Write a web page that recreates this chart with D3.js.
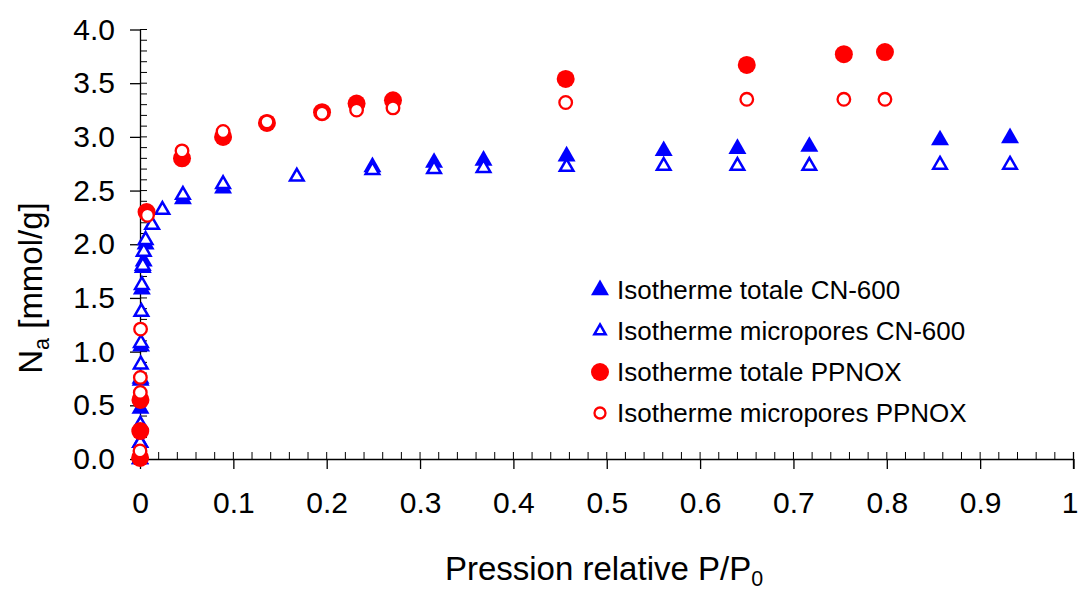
<!DOCTYPE html>
<html><head><meta charset="utf-8">
<script src="https://cdn.jsdelivr.net/npm/d3@7"></script>
<style>body{margin:0;background:#fff}svg{display:block}text{font-family:"Liberation Sans",Arial,sans-serif}</style>
</head><body><svg id="c" width="1079" height="590"></svg>
<script>
// CN-600 total isotherm
const cnTotX = [0.0001,0.0003,0.0005,0.0007,0.0012,0.002,0.003,0.004,0.006,0.046,0.089,0.249,0.315,0.368,0.457,0.561,0.640,0.717,0.857,0.932];
const cnTotY = [0.0,0.15,0.47,0.73,1.05,1.58,1.78,1.84,2.00,2.42,2.52,2.72,2.76,2.78,2.82,2.87,2.89,2.91,2.97,2.99];
// CN-600 micropore isotherm
const cnMicX = [0,0.0002,0.0004,0.0006,0.0008,0.001,0.0015,0.002,0.003,0.004,0.006,0.013,0.024,0.046,0.089,0.168,0.249,0.315,0.368,0.457,0.561,0.640,0.717,0.857,0.932];
const cnMicY = [0.0,0.15,0.32,0.75,0.88,1.08,1.37,1.62,1.80,1.93,2.04,2.18,2.32,2.46,2.56,2.63,2.69,2.70,2.71,2.72,2.73,2.73,2.73,2.74,2.74];
// PPNOX total isotherm
const ppTotX = [0.0001,0.0003,0.0005,0.007,0.045,0.089,0.136,0.195,0.232,0.271,0.456,0.650,0.754,0.798];
const ppTotY = [0.01,0.26,0.55,2.30,2.80,3.00,3.13,3.23,3.31,3.34,3.54,3.67,3.77,3.79];
// PPNOX micropore isotherm
const ppMicX = [0,0.0003,0.0004,0.0006,0.008,0.045,0.089,0.136,0.195,0.232,0.271,0.456,0.650,0.754,0.798];
const ppMicY = [0.075,0.62,0.76,1.21,2.27,2.87,3.05,3.14,3.22,3.25,3.27,3.32,3.35,3.35,3.35];

const legendLabels = ["Isotherme totale CN-600","Isotherme micropores CN-600","Isotherme totale PPNOX","Isotherme micropores PPNOX"];
const xTicks = [0,0.1,0.2,0.3,0.4,0.5,0.6,0.7,0.8,0.9,1];
const yTicks = [0,0.5,1,1.5,2,2.5,3,3.5,4];

const svg = d3.select("#c");
const x = d3.scaleLinear().domain([0,1]).range([140,1073.5]);
const y = d3.scaleLinear().domain([0,4]).range([459,29.5]);
const FS = 26, TFS = 30, AFS = 33;

// minor ticks
const g = svg.append("g");
g.selectAll(".mx").data(d3.range(0,1.0001,0.02)).join("line")
  .attr("x1",d=>x(d)).attr("x2",d=>x(d)).attr("y1",y(0)).attr("y2",y(0)-7)
  .attr("stroke","#000").attr("stroke-width",1);
g.selectAll(".my").data(d3.range(0,4.0001,0.1)).join("line")
  .attr("y1",d=>y(d)).attr("y2",d=>y(d)).attr("x1",x(0)).attr("x2",x(0)+7)
  .attr("stroke","#000").attr("stroke-width",1);

const xAxis = svg.append("g").attr("transform",`translate(0,${y(0)})`)
  .call(d3.axisBottom(x).tickValues(xTicks).tickFormat(d3.format("")).tickSize(10).tickPadding(23).tickSizeOuter(0));
const yAxis = svg.append("g").attr("transform",`translate(${x(0)},0)`)
  .call(d3.axisLeft(y).tickValues(yTicks).tickFormat(d3.format(".1f")).tickSize(10).tickPadding(15).tickSizeOuter(0));
[xAxis,yAxis].forEach(a=>{
  a.selectAll("path,line").attr("stroke","#000").attr("stroke-width",1.3);
  a.selectAll("text").attr("font-size",TFS).attr("fill","#000").style("font-family","'Liberation Sans',Arial,sans-serif");
});
xAxis.selectAll(".tick").filter(d=>d===1).select("text").attr("dx",-4);
// end tick crossing at x=1
svg.append("line").attr("x1",x(1)).attr("x2",x(1)).attr("y1",y(0)-7).attr("y2",y(0)+10).attr("stroke","#000").attr("stroke-width",1.3);

// titles
const yt = svg.append("text").attr("transform","translate(42,288) rotate(-90)").attr("text-anchor","middle").attr("font-size",AFS);
yt.append("tspan").text("N");
yt.append("tspan").attr("font-size",AFS*0.65).attr("dy",7).text("a");
yt.append("tspan").attr("dy",-7).text(" [mmol/g]");
const xt = svg.append("text").attr("x",604).attr("y",580).attr("text-anchor","middle").attr("font-size",AFS);
xt.append("tspan").text("Pression relative P/P");
xt.append("tspan").attr("font-size",AFS*0.65).attr("dy",6).text("0");

const blue="#0000ff", red="#ff0000";
const triF = d3.symbol().type(d3.symbolTriangle).size(140)();
const triO = d3.symbol().type(d3.symbolTriangle).size(80)();
const plot = svg.append("g");
function pts(xs,ys){return xs.map((v,i)=>[v,ys[i]]);}
plot.append("g").selectAll("path").data(pts(cnTotX,cnTotY)).join("path")
  .attr("d",triF).attr("transform",d=>`translate(${x(d[0])},${y(d[1])})`).attr("fill",blue);
plot.append("g").selectAll("path").data(pts(cnMicX,cnMicY)).join("path")
  .attr("d",triO).attr("transform",d=>`translate(${x(d[0])},${y(d[1])})`).attr("fill","#fff").attr("stroke",blue).attr("stroke-width",2.5);
plot.append("g").selectAll("circle").data(pts(ppTotX,ppTotY)).join("circle")
  .attr("cx",d=>x(d[0])).attr("cy",d=>y(d[1])).attr("r",9).attr("fill",red);
plot.append("g").selectAll("circle").data(pts(ppMicX,ppMicY)).join("circle")
  .attr("cx",d=>x(d[0])).attr("cy",d=>y(d[1])).attr("r",6.3).attr("fill","#fff").attr("stroke",red).attr("stroke-width",2.3);

// legend
const lg = svg.append("g");
const rowsY = [290,331,372,413];
legendLabels.forEach((t,i)=>{
  const r = lg.append("g").attr("transform",`translate(600,${rowsY[i]})`);
  if(i===0) r.append("path").attr("d",triF).attr("fill",blue);
  if(i===1) r.append("path").attr("d",d3.symbol().type(d3.symbolTriangle).size(55)()).attr("fill","#fff").attr("stroke",blue).attr("stroke-width",2.5);
  if(i===2) r.append("circle").attr("r",9).attr("fill",red);
  if(i===3) r.append("circle").attr("r",5.5).attr("fill","#fff").attr("stroke",red).attr("stroke-width",2.3);
  r.append("text").attr("x",17).attr("y",9).attr("font-size",FS).text(t);
});
</script></body></html>
